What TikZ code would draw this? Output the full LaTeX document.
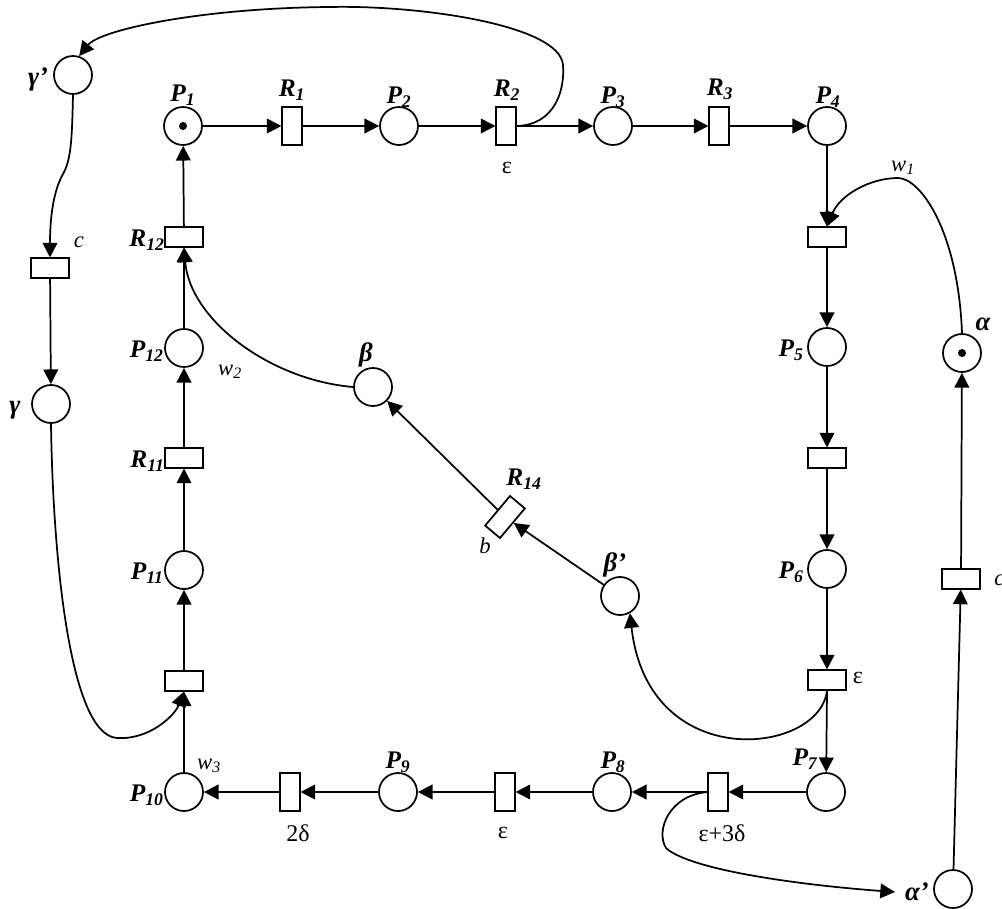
\documentclass[tikz,border=0pt]{standalone}
\usepackage{fontspec}
\setmainfont{Liberation Serif}
\usetikzlibrary{arrows.meta}
\begin{document}
\begin{tikzpicture}[x=0.75pt,y=-0.75pt,
  place/.style={circle,draw,line width=1.3pt,minimum size=28.5pt,inner sep=0pt},
  vtrans/.style={rectangle,draw,line width=1.3pt,minimum width=14.5pt,minimum height=29pt,inner sep=0pt},
  htrans/.style={rectangle,draw,line width=1.3pt,minimum width=29pt,minimum height=14.5pt,inner sep=0pt},
  arc/.style={line width=1.3pt,-{Triangle[length=11pt,width=11pt]}},
  lbl/.style={font=\fontsize{19}{22}\selectfont\bfseries\itshape,inner sep=0pt},
  glbl/.style={font=\fontsize{20}{23}\selectfont\bfseries\itshape,inner sep=0pt},
  tlbl/.style={font=\fontsize{18}{21}\selectfont,inner sep=0pt},
  wlbl/.style={font=\fontsize{17}{20}\selectfont\itshape,inner sep=0pt},
  token/.style={circle,fill,inner sep=0pt,minimum size=6pt}
]
\useasboundingbox (0,0) rectangle (1002,909);

% places
\node[place] (p1) at (183,126) {};
\node[token] at (p1) {};
\node[place] (p2) at (399,126) {};
\node[place] (p3) at (613,126) {};
\node[place] (p4) at (827,126) {};
\node[place] (p5) at (827,347) {};
\node[place] (p6) at (827,569) {};
\node[place] (p7) at (826,792) {};
\node[place] (p8) at (612,792) {};
\node[place] (p9) at (398,792) {};
\node[place] (p10) at (184,792) {};
\node[place] (p11) at (184,570) {};
\node[place] (p12) at (184,348) {};
\node[place] (gp) at (73,75) {};
\node[place] (g) at (51,404) {};
\node[place] (a) at (962,353) {};
\node[token] at (a) {};
\node[place] (ap) at (953,889) {};
\node[place] (b) at (373,387) {};
\node[place] (bp) at (620,596) {};

% transitions
\node[vtrans] (r1) at (292,126) {};
\node[vtrans] (r2) at (506,126) {};
\node[vtrans] (r3) at (719,126) {};
\node[htrans] (t4) at (827,237) {};
\node[htrans] (t5) at (827,458) {};
\node[htrans] (t6) at (827,680) {};
\node[vtrans] (t7) at (718,792) {};
\node[vtrans] (t8) at (505,792) {};
\node[vtrans] (t9) at (290,792) {};
\node[htrans] (t10) at (184,681) {};
\node[htrans] (r11) at (184,458) {};
\node[htrans] (r12) at (184,237) {};
\node[htrans] (tc) at (50,268) {};
\node[htrans] (ta) at (961,579) {};
\node[vtrans,rotate=-40] (r14) at (505,517) {};

% labels
\node[lbl] at (183,95) {P\textsubscript{1}};
\node[lbl] at (292,90) {R\textsubscript{1}};
\node[lbl] at (399,97) {P\textsubscript{2}};
\node[lbl] at (507,90) {R\textsubscript{2}};
\node[lbl] at (613,97) {P\textsubscript{3}};
\node[lbl] at (720,89) {R\textsubscript{3}};
\node[lbl] at (828,97) {P\textsubscript{4}};
\node[lbl,anchor=east] at (804,350) {P\textsubscript{5}};
\node[lbl,anchor=east] at (804,572) {P\textsubscript{6}};
\node[lbl] at (805,759) {P\textsubscript{7}};
\node[lbl] at (613,762) {P\textsubscript{8}};
\node[lbl] at (398,762) {P\textsubscript{9}};
\node[lbl,anchor=east] at (164,795) {P\textsubscript{10}};
\node[lbl,anchor=east] at (164,573) {P\textsubscript{11}};
\node[lbl,anchor=east] at (164,351) {P\textsubscript{12}};
\node[lbl,anchor=east] at (165,461) {R\textsubscript{11}};
\node[lbl,anchor=east] at (165,240) {R\textsubscript{12}};
\node[lbl] at (524,479) {R\textsubscript{14}};
\node[glbl] at (38,79) {γ’};
\node[glbl] at (15,410) {γ};
\node[glbl] at (983,324) {α};
\node[glbl] (apl) at (917,892) {α’};
\node[glbl] at (366,355) {β};
\node[glbl] at (615,565) {β’};
\node[tlbl] at (507,168) {ε};
\node[tlbl] at (858,678) {ε};
\node[tlbl] at (722,833) {ε+3δ};
\node[tlbl] at (503,833) {ε};
\node[tlbl] at (298,833) {2δ};
\node[wlbl] at (903,168) {w\textsubscript{1}};
\node[wlbl] at (230,372) {w\textsubscript{2}};
\node[wlbl] at (209,766) {w\textsubscript{3}};
\node[wlbl] at (79,242) {c};
\node[wlbl,anchor=west] at (994,580) {c};
\node[wlbl] at (485,546) {b};

% main cycle
\draw[arc] (p1) -- (r1);
\draw[arc] (r1) -- (p2);
\draw[arc] (p2) -- (r2);
\draw[arc] (r2) -- (p3);
\draw[arc] (p3) -- (r3);
\draw[arc] (r3) -- (p4);
\draw[arc] (p4) -- (t4);
\draw[arc] (t4) -- (p5);
\draw[arc] (p5) -- (t5);
\draw[arc] (t5) -- (p6);
\draw[arc] (p6) -- (t6);
\draw[arc] (t6.south) -- (p7);
\draw[arc] (p7) -- (t7);
\draw[arc] (t7.west) -- (p8);
\draw[arc] (p8) -- (t8);
\draw[arc] (t8) -- (p9);
\draw[arc] (p9) -- (t9);
\draw[arc] (t9) -- (p10);
\draw[arc] (p10) -- (t10);
\draw[arc] (t10) -- (p11);
\draw[arc] (p11) -- (r11);
\draw[arc] (r11) -- (p12);
\draw[arc] (p12) -- (r12);
\draw[arc] (r12) -- (p1);

% gamma loop
\draw[arc] (r2.east) .. controls (555,125) and (565,90) .. (563,65)
  .. controls (560,25) and (420,5) .. (330,7)
  .. controls (200,8) and (100,30) .. (gp.72);
\draw[arc] (gp.south) .. controls (72,140) and (71,160) .. (63,174)
  .. controls (54,190) and (50,215) .. (tc.north);
\draw[arc] (tc) -- (g);
\draw[arc] (g.south) .. controls (53,560) and (70,735) .. (117,738)
  .. controls (150,740) and (175,715) .. (t10.south);

% alpha loop
\draw[arc] (a.north) .. controls (958,230) and (920,178) .. (898,178)
  .. controls (870,178) and (840,195) .. (t4.north);
\coordinate (apin) at (895,892);
\draw[arc] (t7.west) .. controls (670,795) and (655,830) .. (666,848)
  .. controls (690,870) and (800,885) .. (apin);
\draw[arc] (ap) -- (ta);
\draw[arc] (ta) -- (a);

% beta loop
\draw[arc] (t6.south) .. controls (820,755) and (648,775) .. (bp.-60);
\draw[arc] (bp) -- (r14);
\draw[arc] (r14) -- (b);
\draw[arc] (b.west) .. controls (270,380) and (190,320) .. (r12.south);
\end{tikzpicture}
\end{document}
